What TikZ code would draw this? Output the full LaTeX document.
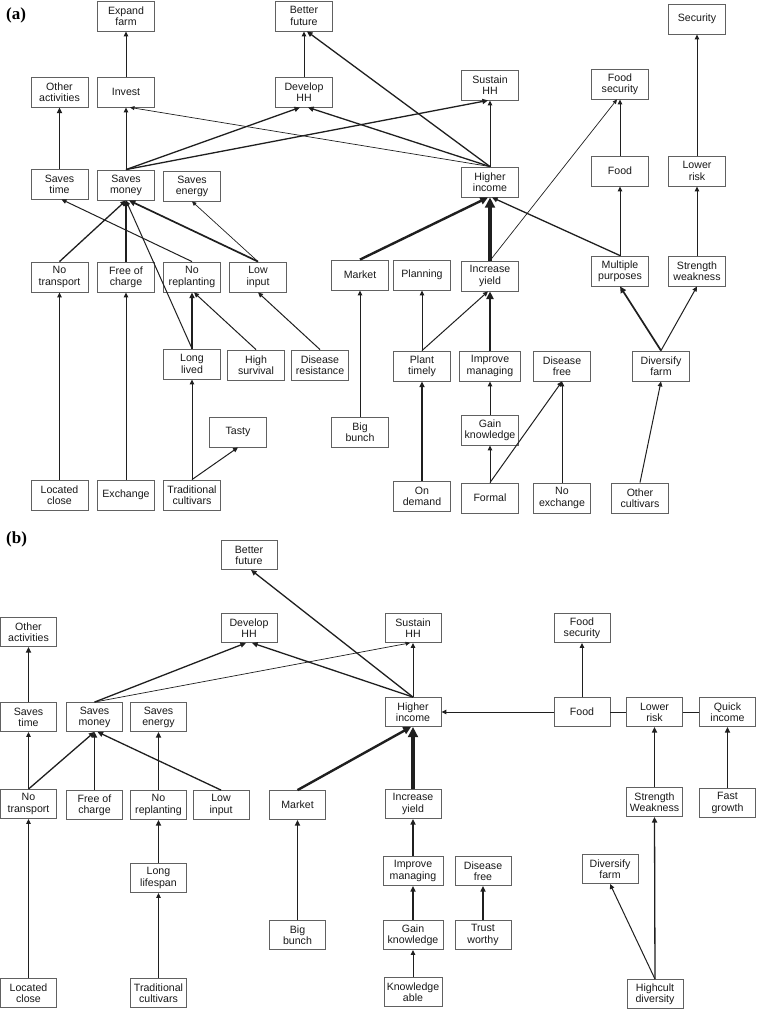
\documentclass[tikz,border=0pt]{standalone}
\usepackage{fontspec}
\setmainfont{Liberation Sans}
\newfontfamily\labfont{Liberation Serif}
\usetikzlibrary{arrows.meta}
\begin{document}
\begin{tikzpicture}[x=1pt,y=-1pt,
  box/.style={draw=black!62, line width=0.85pt, fill=white, minimum width=57pt, minimum height=30pt,
    inner sep=0pt, align=center, text=black!90, font=\fontsize{10.6}{11.2}\selectfont},
  bbox/.style={box, minimum width=56pt, minimum height=29pt},
  con/.style={-{Triangle[length=3pt 2,width=2.5pt 2]}, line width=1pt, draw=black!88},
  thin/.style={con, line width=0.7pt},
  med/.style={con, line width=1.3pt},
  thk/.style={con, line width=1.7pt},
  vthk/.style={con, line width=2.4pt},
  xthk/.style={con, line width=3.6pt},
  plain/.style={line width=1pt, draw=black!88},
  lab/.style={font=\labfont\bfseries\fontsize{17}{17}\selectfont, inner sep=0pt, anchor=west}
]
\useasboundingbox (0,0) rectangle (756,1009);

% ---------------- panel (a) ----------------
\node[lab] (la) at (6,15) {(a)};
\node[box] (ef) at (126,16) {Expand\\farm};
\node[box] (bf) at (304,16) {Better\\future};
\node[box] (sec) at (697,19) {Security};
\node[box] (oa) at (59.5,92) {Other\\activities};
\node[box] (inv) at (126,92) {Invest};
\node[box] (dh) at (304,92) {Develop\\HH};
\node[box] (sh) at (490,85) {Sustain\\HH};
\node[box] (fs) at (620,84) {Food\\security};
\node[box] (st) at (59.5,184) {Saves\\time};
\node[box] (sm) at (126,185) {Saves\\money};
\node[box] (se) at (192,186) {Saves\\energy};
\node[box] (hi) at (490,182) {Higher\\income};
\node[box] (fo) at (620,171) {Food};
\node[box] (lr) at (697,171) {Lower\\risk};
\node[box] (nt) at (59.5,277) {No\\transport};
\node[box] (fc) at (126,277) {Free of\\charge};
\node[box] (nr) at (192,277) {No\\replanting};
\node[box] (li) at (258,277) {Low\\input};
\node[box] (mk) at (360,275) {Market};
\node[box] (pl) at (422,275) {Planning};
\node[box] (iy) at (490,276) {Increase\\yield};
\node[box] (mp) at (620,271) {Multiple\\purposes};
\node[box] (sw) at (697,271) {Strength\\weakness};
\node[box] (ll) at (192,364) {Long\\lived};
\node[box] (hs) at (256,365) {High\\survival};
\node[box] (dr) at (320,365) {Disease\\resistance};
\node[box] (pt) at (422,366) {Plant\\timely};
\node[box, minimum width=60.5pt] (im) at (490,366) {Improve\\managing};
\node[box] (df) at (562,366) {Disease\\free};
\node[box] (dv) at (661,366) {Diversify\\farm};
\node[box] (ta) at (238,432) {Tasty};
\node[box] (bb) at (360,432) {Big\\bunch};
\node[box] (gk) at (490,430) {Gain\\knowledge};
\node[box] (lc) at (59.5,495) {Located\\close};
\node[box] (ex) at (126,495) {Exchange};
\node[box] (tc) at (192,495) {Traditional\\cultivars};
\node[box] (od) at (422,496) {On\\demand};
\node[box] (fm) at (490,498) {Formal};
\node[box] (ne) at (562,498) {No\\exchange};
\node[box] (oc) at (640,498) {Other\\cultivars};

\draw[con] (inv.north) -- (ef.south);
\draw[con] (dh.north) -- (bf.south);
\draw[med] (hi.north) -- ([xshift=3pt]bf.south);
\draw[med] (st.north) -- (oa.south);
\draw[con] (sm.north) -- (inv.south);
\draw[thin] (hi.north) -- ([xshift=4pt]inv.south);
\draw[med] (sm.north) -- ([xshift=-4pt]dh.south);
\draw[med] (hi.north) -- ([xshift=4pt]dh.south);
\draw[med] (sm.north) -- ([xshift=-2pt]sh.south);
\draw[con] (hi.north) -- (sh.south);
\draw[thin] (iy.north) -- ([xshift=-3pt]fs.south);
\draw[con] (fo.north) -- (fs.south);
\draw[con] (lr.north) -- (sec.south);
\draw[med] (mp.north) -- ([xshift=2pt]hi.south);
\draw[con] (mp.north) -- (fo.south);
\draw[con] (sw.north) -- (lr.south);
\draw[vthk] (mk.north) -- ([xshift=-2pt]hi.south);
\draw[xthk] (iy.north) -- (hi.south);
\draw[con] (pt.north) -- (pl.south);
\draw[con] (pt.north) -- ([xshift=-2pt]iy.south);
\draw[vthk] (im.north) -- (iy.south);
\draw[con] (gk.north) -- (im.south);
\draw[con] (fm.north) -- (gk.south);
\draw[con] (fm.north) -- (df.south);
\draw[con] (ne.north) -- (df.south);
\draw[med] (od.north) -- (pt.south);
\draw[con] (oc.north) -- (dv.south);
\draw[thk] (dv.north) -- (mp.south);
\draw[con] (dv.north) -- (sw.south);
\draw[con] (bb.north) -- (mk.south);
\draw[med] (nt.north) -- (sm.south);
\draw[med] (fc.north) -- (sm.south);
\draw[con] (ll.north) -- (sm.south);
\draw[thk] (li.north) -- ([xshift=3pt]sm.south);
\draw[con] (nr.north) -- ([xshift=2pt]st.south);
\draw[thin] (li.north) -- (se.south);
\draw[med] (ll.north) -- (nr.south);
\draw[con] (hs.north) -- ([xshift=2pt]nr.south);
\draw[con] (dr.north) -- (li.south);
\draw[con] (lc.north) -- (nt.south);
\draw[con] (ex.north) -- (fc.south);
\draw[con] (tc.north) -- (ll.south);
\draw[con] (tc.north) -- (ta.south);

% ---------------- panel (b) ----------------
\node[lab] (lb) at (6,539) {(b)};
\node[bbox] (bbf) at (249,555) {Better\\future};
\node[bbox] (boa) at (28.5,632) {Other\\activities};
\node[bbox] (bdh) at (249,628) {Develop\\HH};
\node[bbox] (bsh) at (413,628) {Sustain\\HH};
\node[bbox] (bfs) at (582,628) {Food\\security};
\node[bbox] (bst) at (28.5,717) {Saves\\time};
\node[bbox] (bsm) at (94.5,717) {Saves\\money};
\node[bbox] (bse) at (158.5,717) {Saves\\energy};
\node[bbox] (bhi) at (413,712) {Higher\\income};
\node[bbox] (bfo) at (582,712) {Food};
\node[bbox] (blr) at (654.5,712) {Lower\\risk};
\node[bbox] (bqi) at (727.5,712) {Quick\\income};
\node[bbox] (bnt) at (28.5,804) {No\\transport};
\node[bbox] (bfc) at (94.5,805) {Free of\\charge};
\node[bbox] (bnr) at (158.5,805) {No\\replanting};
\node[bbox] (bli) at (221,805) {Low\\input};
\node[bbox] (bmk) at (297.5,805) {Market};
\node[bbox] (biy) at (413,804) {Increase\\yield};
\node[bbox] (bsw) at (654.5,802) {Strength\\Weakness};
\node[bbox] (bfg) at (727.5,803) {Fast\\growth};
\node[bbox] (bls) at (158.5,878) {Long\\lifespan};
\node[bbox, minimum width=60pt] (bim) at (413,871) {Improve\\managing};
\node[bbox] (bdf) at (483,871) {Disease\\free};
\node[bbox] (bdv) at (610,869) {Diversify\\farm};
\node[bbox] (bbb) at (297.5,935) {Big\\bunch};
\node[bbox, minimum width=60pt] (bgk) at (413,935) {Gain\\knowledge};
\node[bbox] (btw) at (483,935) {Trust\\worthy};
\node[bbox] (blc) at (28.5,993) {Located\\close};
\node[bbox] (btc) at (158.5,993) {Traditional\\cultivars};
\node[bbox, minimum width=58pt] (bka) at (413,992) {Knowledge\\able};
\node[bbox] (bhd) at (655,994) {Highcult\\diversity};

\draw[med] (bhi.north) -- ([xshift=2pt]bbf.south);
\draw[med] (bsm.north) -- ([xshift=-3pt]bdh.south);
\draw[med] (bhi.north) -- ([xshift=3pt]bdh.south);
\draw[thin] (bsm.north) -- ([xshift=-3pt]bsh.south);
\draw[con] (bhi.north) -- (bsh.south);
\draw[con] (bfo.north) -- (bfs.south);
\draw[con] (bfo.west) -- (bhi.east);
\draw[plain] (bfo.east) -- (blr.west);
\draw[plain] (blr.east) -- (bqi.west);
\draw[med] (bsw.north) -- (blr.south);
\draw[med] (bfg.north) -- (bqi.south);
\draw[med] (bhd.north) -- (bsw.south);
\draw[con] (bhd.north) -- (bdv.south);
\draw[med] (bst.north) -- (boa.south);
\draw[con] (bnt.north) -- (bst.south);
\draw[med] (bnt.north) -- (bsm.south);
\draw[med] (bfc.north) -- (bsm.south);
\draw[med] (bli.north) -- ([xshift=3pt]bsm.south);
\draw[med] (bnr.north) -- (bse.south);
\draw[vthk] (bmk.north) -- ([xshift=-2pt]bhi.south);
\draw[xthk] (biy.north) -- (bhi.south);
\draw[med] (bim.north) -- (biy.south);
\draw[med] (bgk.north) -- (bim.south);
\draw[con] (bka.north) -- (bgk.south);
\draw[med] (btw.north) -- (bdf.south);
\draw[med] (bbb.north) -- (bmk.south);
\draw[med] (bls.north) -- (bnr.south);
\draw[con] (btc.north) -- (bls.south);
\draw[con] (blc.north) -- (bnt.south);
\end{tikzpicture}
\end{document}
